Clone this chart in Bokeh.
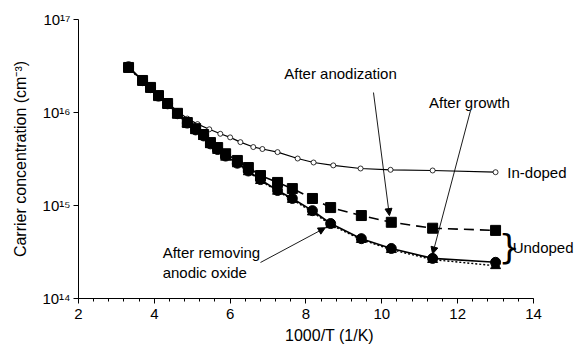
from bokeh.plotting import figure
from bokeh.models import (Label, Arrow, NormalHead, SingleIntervalTicker, LogTicker)
from bokeh.embed import file_html
from bokeh.resources import INLINE

# ---- data (1000/T in 1/K, carrier concentration in cm^-3) ----
inv_T_undoped = [3.32, 3.69, 3.90, 4.11, 4.35, 4.61, 4.87, 5.09, 5.30, 5.48, 5.67, 5.88,
                 6.19, 6.48, 6.80, 7.25, 7.64, 8.17, 8.65, 9.46, 10.25, 11.34, 13.0]
after_anodization = [3.05e16, 2.21e16, 1.86e16, 1.52e16, 1.25e16, 9.8e15, 7.8e15, 6.7e15,
                     5.8e15, 4.75e15, 4.2e15, 3.6e15, 3.05e15, 2.56e15, 2.1e15, 1.77e15,
                     1.52e15, 1.19e15, 9.5e14, 7.8e14, 6.6e14, 5.7e14, 5.4e14]
after_removing = [3.1e16, 2.2e16, 1.85e16, 1.5e16, 1.24e16, 9.7e15, 7.7e15, 6.5e15,
                  5.6e15, 4.6e15, 4.0e15, 3.4e15, 2.85e15, 2.35e15, 1.9e15, 1.45e15,
                  1.19e15, 8.8e14, 6.4e14, 4.4e14, 3.45e14, 2.7e14, 2.45e14]
after_growth = [3.0e16, 2.15e16, 1.8e16, 1.48e16, 1.22e16, 9.5e15, 7.6e15, 6.4e15,
                5.5e15, 4.5e15, 3.9e15, 3.3e15, 2.8e15, 2.3e15, 1.85e15, 1.42e15,
                1.16e15, 8.5e14, 6.2e14, 4.3e14, 3.35e14, 2.62e14, 2.25e14]

inv_T_indoped = [3.32, 3.69, 3.90, 4.11, 4.35, 4.61, 4.87, 5.14, 5.45, 5.74, 6.0, 6.27,
                 6.61, 6.85, 7.25, 7.78, 8.2, 8.72, 9.44, 10.23, 11.34, 13.0]
in_doped = [3.0e16, 2.2e16, 1.85e16, 1.52e16, 1.27e16, 1.03e16, 8.6e15, 7.5e15, 6.6e15,
            5.9e15, 5.4e15, 4.8e15, 4.25e15, 4.05e15, 3.75e15, 3.2e15, 2.9e15, 2.7e15,
            2.5e15, 2.42e15, 2.38e15, 2.28e15]

x_axis_min, x_axis_max = 2, 14
x_ticks_interval = 2
y_tick_labels = {1e14: "10¹⁴", 1e15: "10¹⁵", 1e16: "10¹⁶", 1e17: "10¹⁷"}

FONT = "Liberation Sans"

# frame extends past x=14 so the right-hand labels are not clipped;
# the axis itself is bounded to 2..14
p = figure(width=580, height=349, output_backend="svg", toolbar_location=None,
           x_range=(2, 15.24), y_range=(1e14, 1e17), y_axis_type="log",
           min_border_left=78, min_border_right=0, min_border_top=19,
           min_border_bottom=51)
p.outline_line_color = None
p.grid.visible = False
p.background_fill_color = "white"
p.border_fill_color = "white"

# axes
p.xaxis.ticker = SingleIntervalTicker(interval=x_ticks_interval, num_minor_ticks=5)
p.xaxis.bounds = (x_axis_min, x_axis_max)
p.yaxis.ticker = LogTicker(desired_num_ticks=4)
p.yaxis.major_label_overrides = y_tick_labels
for ax in (p.xaxis[0], p.yaxis[0]):
    ax.axis_line_color = "black"
    ax.axis_line_width = 1
    ax.major_tick_line_color = "black"
    ax.major_tick_in = 0
    ax.major_tick_out = 5
    ax.minor_tick_in = 0
    ax.minor_tick_out = 3
    ax.major_label_text_font = FONT
    ax.major_label_text_font_size = "15px"
    ax.major_label_text_color = "black"
    ax.axis_label_text_font = FONT
    ax.axis_label_text_font_size = "16px"
    ax.axis_label_text_font_style = "normal"
    ax.axis_label_text_color = "black"
p.yaxis.minor_tick_line_color = None
p.xaxis.minor_tick_line_color = "black"
p.xaxis.major_label_standoff = 5
p.yaxis.major_label_standoff = 3
p.xaxis.axis_label = "1000/T (1/K)"
p.yaxis.axis_label = "Carrier concentration (cm⁻³)"
p.xaxis.axis_label_standoff = 5
p.yaxis.axis_label_standoff = 10

# In-doped (drawn first, beneath the undoped markers)
p.line(inv_T_indoped, in_doped, line_color="black", line_width=1.2)
p.scatter(inv_T_indoped, in_doped, marker="circle", size=5,
          fill_color="white", line_color="black", line_width=0.8)

# Undoped lines
p.line(inv_T_undoped, after_anodization, line_color="black", line_width=1.6, line_dash="10 6")
p.line(inv_T_undoped, after_growth, line_color="black", line_width=1.4, line_dash="2 2")
p.line(inv_T_undoped, after_removing, line_color="black", line_width=1.6)

# Undoped markers
p.scatter(inv_T_undoped, after_growth, marker="triangle", size=10,
          fill_color="black", line_color="black")
p.scatter(inv_T_undoped, after_anodization, marker="square", size=10,
          fill_color="black", line_color="black")
p.scatter(inv_T_undoped, after_removing, marker="circle", size=10,
          fill_color="black", line_color="black")

# annotations
def lab(x, y, t, align="left", size="15px", baseline="middle"):
    p.add_layout(Label(x=x, y=y, text=t, text_font=FONT, text_font_size=size,
                       text_align=align, text_baseline=baseline, text_color="black"))

lab(8.91, 2.6e16, "After anodization", align="center")
lab(12.31, 1.28e16, "After growth", align="center")
lab(4.22, 3.1e14, "After removing")
lab(4.22, 1.9e14, "anodic oxide")
lab(13.31, 2.26e15, "In-doped")
lab(13.45, 3.5e14, "Undoped")
p.add_layout(Label(x=13.08, y=3.55e14, text="}", text_font="DejaVu Sans",
                   text_font_size="34px", text_align="left", text_baseline="middle",
                   text_color="black"))

head = lambda: NormalHead(size=7, fill_color="black", line_color="black", line_width=1)
i_a = inv_T_undoped.index(10.25)
i_g = inv_T_undoped.index(11.34)
i_r = inv_T_undoped.index(8.65)
p.add_layout(Arrow(end=head(), x_start=9.78, y_start=1.64e16,
                   x_end=inv_T_undoped[i_a] - 0.05, y_end=after_anodization[i_a] * 1.18,
                   line_color="black", line_width=0.9))
p.add_layout(Arrow(end=head(), x_start=12.34, y_start=1.05e16,
                   x_end=inv_T_undoped[i_g], y_end=after_growth[i_g] * 1.15,
                   line_color="black", line_width=0.9))
p.add_layout(Arrow(end=head(), x_start=6.8, y_start=2.44e14,
                   x_end=inv_T_undoped[i_r] - 0.14, y_end=after_removing[i_r] * 0.9,
                   line_color="black", line_width=0.9))

open("out.html", "w").write(file_html(p, INLINE))
